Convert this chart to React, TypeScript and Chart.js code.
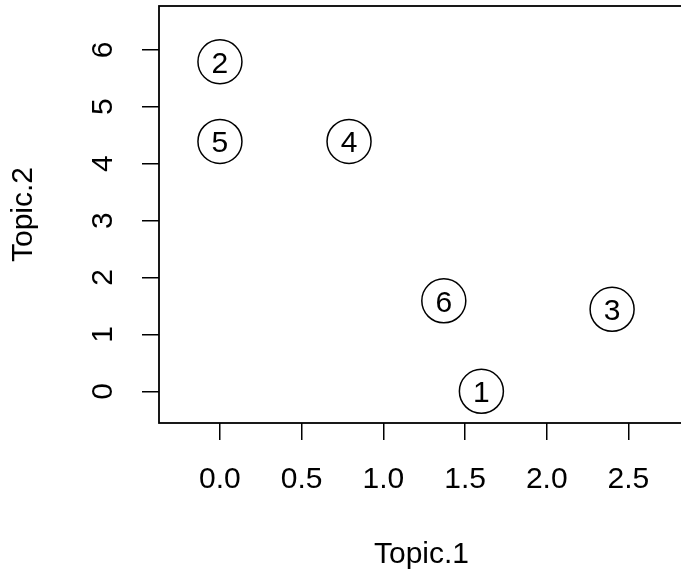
import React, { useEffect, useRef } from "react";
import { Chart, registerables } from "chart.js";

Chart.register(...registerables);

const xValues = [1.6, 0.0, 2.4, 0.79, 0.0, 1.37];
const yValues = [0.0, 5.79, 1.44, 4.39, 4.39, 1.59];
const pointLabels = ["1", "2", "3", "4", "5", "6"];
const xTicks = [0, 0.5, 1, 1.5, 2, 2.5];
const yTicks = [0, 1, 2, 3, 4, 5, 6];
const xTitle = "Topic.1";
const yTitle = "Topic.2";

const FONT = "'Liberation Sans', Arial, Helvetica, sans-serif";
const FS = 30;

const rPlot = {
  id: "rPlot",
  afterDatasetsDraw(chart: any) {
    const ctx = chart.ctx;
    const { left, top, right, bottom } = chart.chartArea;
    ctx.save();
    ctx.strokeStyle = "#000";
    ctx.lineWidth = 1.8;
    ctx.strokeRect(left, top, right - left + 6, bottom - top);
    const meta = chart.getDatasetMeta(0);
    ctx.fillStyle = "#000";
    ctx.font = `${FS}px ${FONT}`;
    ctx.textAlign = "center";
    ctx.textBaseline = "alphabetic";
    meta.data.forEach((el: any, i: number) => {
      ctx.fillText(pointLabels[i], el.x, el.y + 0.358 * FS);
    });
    const ys = chart.scales.y;
    yTicks.forEach((v) => {
      const py = ys.getPixelForValue(v);
      ctx.save();
      ctx.translate(ys.right - 47, py);
      ctx.rotate(-Math.PI / 2);
      ctx.textAlign = "center";
      ctx.textBaseline = "alphabetic";
      ctx.fillText(String(v), 0, 0);
      ctx.restore();
    });
    ctx.restore();
  },
};

const zeroPad = (s: any) => {
  s.paddingTop = 0;
  s.paddingBottom = 0;
  s.paddingLeft = 0;
  s.paddingRight = 0;
};

export default function App() {
  const ref = useRef<HTMLCanvasElement | null>(null);
  useEffect(() => {
    if (!ref.current) return;
    const chart = new Chart(ref.current, {
      type: "scatter",
      data: {
        datasets: [
          {
            data: xValues.map((x, i) => ({ x, y: yValues[i] })),
            pointRadius: 22,
            pointBackgroundColor: "rgba(255,255,255,0)",
            pointBorderColor: "#000",
            pointBorderWidth: 1.5,
            clip: false,
          },
        ],
      },
      options: {
        responsive: false,
        animation: false,
        events: [],
        layout: { autoPadding: false, padding: { top: 6, left: 0, right: 0, bottom: 0 } },
        plugins: { legend: { display: false }, tooltip: { enabled: false } },
        scales: {
          x: {
            type: "linear",
            min: -0.373,
            max: 2.84,
            afterBuildTicks: (s: any) => {
              s.ticks = xTicks.map((v) => ({ value: v }));
            },
            afterFit: (s: any) => {
              s.height = 155;
              zeroPad(s);
            },
            grid: {
              display: true,
              drawOnChartArea: false,
              drawTicks: true,
              tickLength: 17,
              color: "#000",
              lineWidth: 1.5,
            },
            border: { display: false },
            ticks: {
              color: "#000",
              font: { family: FONT, size: FS },
              padding: 22,
              maxRotation: 0,
              minRotation: 0,
              autoSkip: false,
              callback: (v: any) => Number(v).toFixed(1),
            },
            title: {
              display: true,
              text: xTitle,
              color: "#000",
              font: { family: FONT, size: FS },
              padding: { top: 0, bottom: 5 },
            },
          },
          y: {
            type: "linear",
            min: -0.557,
            max: 6.77,
            afterBuildTicks: (s: any) => {
              s.ticks = yTicks.map((v) => ({ value: v }));
            },
            afterFit: (s: any) => {
              s.width = 159;
              zeroPad(s);
            },
            grid: {
              display: true,
              drawOnChartArea: false,
              drawTicks: true,
              tickLength: 17,
              color: "#000",
              lineWidth: 1.5,
            },
            border: { display: false },
            ticks: { display: false },
            title: {
              display: true,
              text: yTitle,
              color: "#000",
              font: { family: FONT, size: FS },
              padding: { top: 6, bottom: 0 },
            },
          },
        },
      },
      plugins: [rPlot],
    } as any);
    return () => chart.destroy();
  }, []);
  return (
    <div
      style={{
        position: "fixed",
        left: 0,
        top: 0,
        width: 681,
        height: 578,
        overflow: "hidden",
        background: "#fff",
      }}
    >
      <canvas ref={ref} width={684} height={578} style={{ display: "block" }} />
    </div>
  );
}
